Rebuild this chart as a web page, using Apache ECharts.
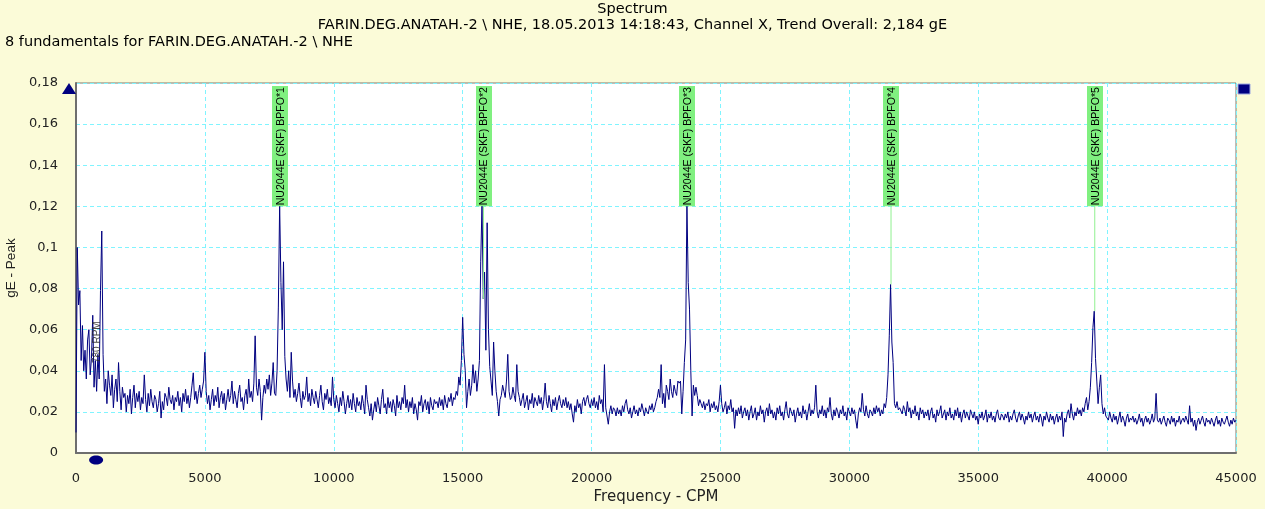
<!DOCTYPE html>
<html>
<head>
<meta charset="utf-8">
<script src="https://cdn.jsdelivr.net/npm/echarts@6/dist/echarts.min.js"></script>
<style>
html,body{margin:0;padding:0;background:#fbfbd8;}
#chart{width:1265px;height:509px;}
</style>
</head>
<body>
<div id="chart"></div>
<script>
// ---- DATA ----
const titleLines = ['Spectrum', 'FARIN.DEG.ANATAH.-2 \\ NHE, 18.05.2013 14:18:43, Channel X, Trend Overall: 2,184 gE'];
const subTitle = '8 fundamentals for FARIN.DEG.ANATAH.-2 \\ NHE';
const xAxisName = 'Frequency - CPM';
const yAxisName = 'gE - Peak';
const xTicks = [0, 5000, 10000, 15000, 20000, 25000, 30000, 35000, 40000, 45000];
const yTicks = [0, 0.02, 0.04, 0.06, 0.08, 0.1, 0.12, 0.14, 0.16, 0.18];
// spectral line spacing (CPM) of the amplitude list below, starting at 0 CPM
const lineSpacingCPM = 50;
// amplitude (gE) per spectral line, one row = 1000 CPM
const amplitude = [
.010,.100,.072,.079,.045,.062,.040,.050,.036,.055,.060,.038,.046,.067,.032,.045,.030,.048,.036,.079,
.108,.048,.030,.036,.024,.040,.033,.028,.038,.022,.031,.036,.025,.044,.030,.021,.032,.027,.029,.020,
.028,.024,.031,.019,.027,.033,.022,.029,.025,.030,.021,.027,.024,.038,.026,.020,.029,.023,.031,.025,
.022,.028,.026,.020,.024,.030,.017,.025,.021,.029,.027,.023,.032,.026,.024,.028,.021,.027,.025,.030,
.023,.027,.020,.029,.025,.031,.024,.028,.022,.027,.033,.039,.026,.030,.024,.029,.033,.027,.031,.035,
.049,.030,.024,.028,.021,.026,.031,.023,.028,.025,.032,.022,.027,.030,.024,.029,.021,.026,.031,.025,
.028,.035,.024,.030,.026,.022,.029,.033,.025,.027,.021,.028,.031,.024,.036,.027,.030,.025,.034,.057,
.032,.028,.036,.030,.016,.027,.033,.029,.036,.031,.038,.028,.034,.044,.029,.028,.040,.071,.121,.083,
.060,.093,.047,.036,.030,.040,.027,.049,.035,.027,.031,.025,.029,.034,.027,.022,.030,.026,.028,.037,
.025,.029,.023,.031,.027,.024,.030,.026,.022,.028,.033,.025,.021,.029,.026,.031,.024,.027,.023,.037,
.026,.022,.028,.024,.020,.027,.023,.030,.025,.019,.024,.028,.022,.026,.021,.029,.024,.020,.027,.023,
.025,.021,.028,.024,.019,.033,.026,.022,.018,.024,.016,.021,.025,.020,.027,.023,.019,.026,.031,.022,
.024,.019,.027,.022,.025,.020,.026,.023,.018,.028,.022,.025,.021,.027,.024,.033,.022,.026,.020,.025,
.022,.027,.019,.024,.021,.016,.025,.023,.028,.020,.024,.026,.021,.025,.019,.027,.023,.021,.026,.024,
.025,.022,.027,.023,.026,.021,.028,.024,.022,.027,.025,.029,.023,.027,.026,.030,.028,.037,.033,.045,
.066,.048,.040,.022,.030,.036,.028,.033,.043,.034,.040,.030,.036,.045,.093,.121,.075,.088,.050,.112,
.060,.042,.035,.028,.054,.040,.030,.025,.018,.026,.028,.033,.030,.027,.035,.048,.030,.026,.027,.032,
.028,.025,.043,.030,.027,.023,.026,.029,.022,.025,.028,.021,.026,.024,.029,.022,.027,.025,.023,.028,
.024,.027,.021,.026,.034,.025,.022,.028,.024,.020,.026,.023,.027,.021,.025,.028,.024,.022,.026,.023,
.027,.022,.025,.021,.024,.019,.015,.023,.020,.026,.022,.024,.019,.025,.027,.023,.026,.028,.024,.022,
.026,.023,.027,.022,.025,.021,.028,.024,.026,.020,.043,.022,.018,.014,.020,.023,.019,.022,.021,.018,
.022,.019,.021,.018,.023,.020,.024,.026,.021,.019,.022,.017,.020,.023,.019,.021,.018,.022,.020,.024,
.021,.018,.022,.020,.019,.023,.021,.024,.020,.022,.025,.027,.031,.027,.043,.024,.029,.022,.033,.030,
.026,.036,.030,.027,.033,.030,.028,.035,.034,.035,.019,.030,.044,.055,.121,.083,.070,.040,.018,.033,
.028,.032,.028,.023,.026,.024,.022,.025,.021,.024,.023,.026,.020,.024,.022,.025,.021,.023,.020,.025,
.033,.024,.020,.022,.025,.019,.023,.021,.026,.020,.022,.012,.021,.018,.022,.019,.023,.017,.020,.022,
.018,.021,.016,.020,.023,.017,.019,.022,.016,.020,.018,.023,.019,.021,.015,.020,.022,.018,.024,.019,
.021,.017,.020,.016,.022,.019,.023,.018,.020,.016,.021,.025,.019,.017,.022,.020,.018,.021,.015,.019,
.022,.018,.020,.017,.023,.019,.021,.016,.020,.024,.018,.021,.019,.022,.033,.020,.017,.021,.019,.023,
.018,.021,.017,.022,.020,.027,.019,.016,.021,.018,.022,.020,.017,.021,.019,.023,.018,.020,.016,.022,
.020,.018,.022,.019,.021,.016,.012,.019,.022,.020,.029,.021,.018,.023,.019,.017,.021,.020,.018,.022,
.019,.023,.020,.022,.018,.021,.019,.024,.022,.027,.038,.057,.082,.054,.044,.024,.022,.025,.021,.022,
.022,.019,.023,.021,.018,.025,.020,.022,.017,.021,.019,.023,.018,.020,.016,.022,.019,.021,.017,.020,
.018,.021,.016,.020,.022,.017,.019,.015,.021,.018,.020,.023,.017,.019,.021,.016,.020,.018,.022,.017,
.019,.016,.021,.018,.022,.017,.020,.015,.019,.021,.017,.020,.018,.016,.021,.019,.017,.020,.016,.018,
.014,.019,.017,.020,.016,.018,.021,.015,.019,.017,.020,.016,.018,.015,.019,.021,.017,.016,.019,.018,
.016,.019,.017,.020,.015,.018,.016,.019,.021,.017,.015,.018,.020,.016,.019,.017,.014,.018,.016,.020,
.017,.019,.015,.018,.020,.016,.018,.015,.019,.017,.013,.018,.016,.020,.017,.015,.019,.016,.018,.014,
.017,.019,.015,.018,.016,.020,.008,.017,.015,.019,.021,.017,.024,.019,.016,.020,.018,.022,.019,.021,
.018,.022,.020,.024,.027,.021,.025,.032,.044,.061,.069,.046,.035,.024,.032,.038,.024,.019,.022,.018,
.018,.016,.020,.017,.015,.019,.016,.018,.014,.017,.020,.015,.018,.016,.013,.017,.019,.015,.017,.016,
.018,.015,.017,.014,.016,.019,.015,.017,.013,.016,.018,.015,.017,.014,.016,.019,.015,.017,.029,.016,
.015,.017,.014,.016,.018,.015,.013,.017,.016,.014,.018,.015,.017,.013,.016,.015,.018,.014,.016,.017,
.015,.018,.016,.014,.023,.015,.017,.013,.016,.011,.015,.017,.014,.016,.018,.015,.013,.017,.015,.016,
.014,.017,.015,.013,.016,.018,.014,.016,.013,.017,.015,.014,.016,.018,.015,.013,.016,.014,.017,.015,
.016
];
// fault-frequency markers (BPFO harmonics of NU2044E (SKF))
const markerFreq = [7904, 15809, 23713, 31617, 39521];
const markerLabels = ['NU2044E (SKF) BPFO*1', 'NU2044E (SKF) BPFO*2', 'NU2044E (SKF) BPFO*3', 'NU2044E (SKF) BPFO*4', 'NU2044E (SKF) BPFO*5'];
const markerLevel = 0.12;
const rpmFreq = 780;
const rpmLabel = '780 RPM';

// ---- CHART ----
const FONT = '"Liberation Sans", Arial, sans-serif';
const WIDE = '"DejaVu Sans", Verdana, sans-serif';
const grid = {left: 76, right: 29, top: 83, bottom: 56};
const W = 1265, H = 509;
const xMin = xTicks[0], xMax = xTicks[xTicks.length - 1];
const yMin = yTicks[0], yMax = yTicks[yTicks.length - 1];

const spectrum = amplitude.map((a, i) => [i * lineSpacingCPM, a]);
function ampAt(f) {
  const i = Math.round(f / lineSpacingCPM);
  return amplitude[Math.max(0, Math.min(amplitude.length - 1, i))];
}
const markerData = markerFreq.map((f, i) => [f, ampAt(f), i]);

const fmtComma = v => String(+v.toFixed(2)).replace('.', ',');

const chart = echarts.init(document.getElementById('chart'), null, {renderer: 'canvas'});
const gridL = grid.left, gridT = grid.top, gridR = W - grid.right;
const titleStyle = {fontFamily: WIDE, fontSize: 14.5, fontWeight: 'normal', color: '#000'};

chart.setOption({
  backgroundColor: '#fbfbd8',
  animation: false,
  title: [
    {text: titleLines[0], left: 'center', top: 2, padding: 0, textStyle: titleStyle},
    {text: titleLines[1], left: 'center', top: 18, padding: 0, textStyle: titleStyle},
    {text: subTitle, left: 5, top: 35, padding: 0, textStyle: titleStyle}
  ],
  grid: {left: grid.left, right: grid.right, top: grid.top, bottom: grid.bottom,
         containLabel: false, outerBoundsMode: 'none',
         show: true, backgroundColor: '#ffffff', borderColor: '#7a7a70', borderWidth: 1},
  xAxis: {
    type: 'value', min: xMin, max: xMax, interval: xTicks[1] - xTicks[0],
    name: xAxisName, nameLocation: 'middle', nameGap: 32,
    nameTextStyle: {fontFamily: WIDE, fontSize: 15, color: '#222'},
    axisLine: {show: true, onZero: false, lineStyle: {color: '#6e6e6e', width: 2}},
    axisTick: {show: false},
    axisLabel: {fontFamily: WIDE, fontSize: 13, color: '#222', margin: 19, formatter: v => String(v)},
    splitLine: {show: true, lineStyle: {color: '#80f4ff', type: [4, 3], width: 1}}
  },
  yAxis: {
    type: 'value', min: yMin, max: yMax, interval: yTicks[1] - yTicks[0],
    name: yAxisName, nameLocation: 'middle', nameGap: 53, nameRotate: 90,
    nameTextStyle: {fontFamily: FONT, fontSize: 13.5, color: '#222'},
    axisLine: {show: true, onZero: false, lineStyle: {color: '#6e6e6e', width: 2}},
    axisTick: {show: false},
    axisLabel: {fontFamily: WIDE, fontSize: 13, color: '#222', margin: 18, formatter: fmtComma},
    splitLine: {show: true, lineStyle: {color: '#80f4ff', type: [4, 3], width: 1}}
  },
  series: [
    {
      type: 'line', data: spectrum, showSymbol: false, symbol: 'none', sampling: 'none',
      lineStyle: {color: '#000080', width: 1}, z: 3
    },
    {
      type: 'custom', data: markerData, z: 4, clip: false,
      encode: {x: 0, y: 1},
      renderItem: function (params, api) {
        const f = api.value(0), a = api.value(1), idx = api.value(2);
        const pLow = api.coord([f, markerLevel]);
        const pA = api.coord([f, a]);
        const pTop = api.coord([f, yMax]);
        const top = pTop[1] + 3;
        const w = 16;
        const children = [];
        if (pA[1] > pLow[1]) {
          children.push({type: 'line', shape: {x1: pLow[0], y1: pLow[1], x2: pLow[0], y2: pA[1]},
            style: {stroke: '#90f090', lineWidth: 1}});
        }
        children.push({type: 'rect', shape: {x: Math.round(pLow[0] - w / 2), y: top, width: w, height: pLow[1] - top},
          style: {fill: '#80f080'}});
        children.push({type: 'text', x: pLow[0] + 1, y: pLow[1] - 1, rotation: Math.PI / 2,
          style: {text: markerLabels[idx], fill: '#000', font: '10.6px ' + FONT, align: 'left', verticalAlign: 'middle'}});
        return {type: 'group', children: children};
      }
    },
    {
      type: 'custom', data: [[rpmFreq, 0]], z: 4, clip: false,
      encode: {x: 0, y: 1},
      renderItem: function (params, api) {
        const p = api.coord([api.value(0), api.value(1)]);
        return {type: 'group', children: [
          {type: 'text', x: p[0] + 1, y: p[1] - 90, rotation: Math.PI / 2,
           style: {text: rpmLabel, fill: 'rgba(40,40,40,0.85)', font: '10px ' + FONT, align: 'left', verticalAlign: 'middle'}},
          {type: 'ellipse', shape: {cx: p[0], cy: p[1] + 7, rx: 7, ry: 4.5}, style: {fill: '#000080'}}
        ]};
      }
    }
  ],
  graphic: [
    {type: 'polygon', shape: {points: [[gridL - 14, gridT + 11], [gridL, gridT + 11], [gridL - 7, gridT]]},
     style: {fill: '#000080'}, z: 10},
    {type: 'rect', shape: {x: gridR + 2, y: gridT + 1, width: 12, height: 10},
     style: {fill: '#000080', stroke: '#9aa6e0', lineWidth: 1}, z: 10}
  ]
});
</script>
</body>
</html>
